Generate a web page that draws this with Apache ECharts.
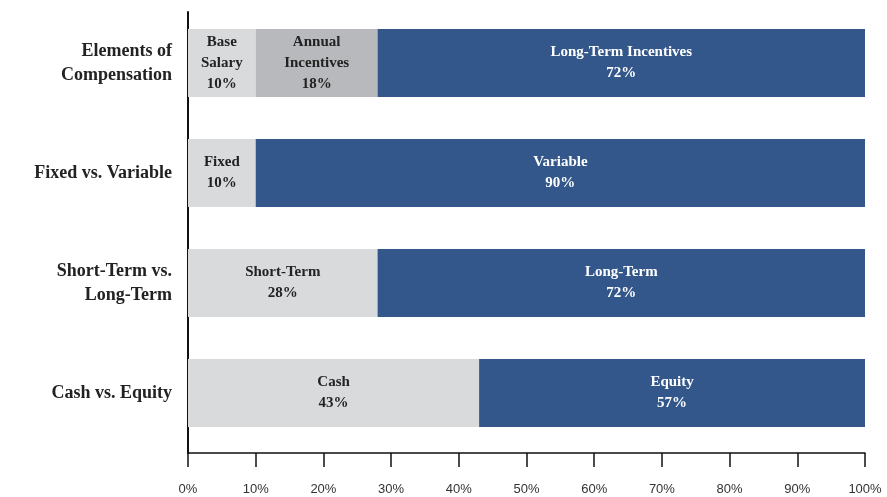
<!DOCTYPE html>
<html>
<head>
<meta charset="utf-8">
<script src="https://cdn.jsdelivr.net/npm/echarts@6/dist/echarts.min.js"></script>
<style>
html,body{margin:0;padding:0;background:#fff;}
#chart{width:887px;height:497px;}
</style>
</head>
<body>
<div id="chart"></div>
<script>
var categories = ['Elements of\nCompensation', 'Fixed vs. Variable', 'Short-Term vs.\nLong-Term', 'Cash vs. Equity'];
// first (light gray) segment
var seg1Values = [10, 10, 28, 43];
var seg1Names = ['Base\nSalary', 'Fixed', 'Short-Term', 'Cash'];
// second (mid gray) segment, only in first row
var seg2Values = [18, null, null, null];
var seg2Names = ['Annual\nIncentives', '', '', ''];
// third (blue) segment
var seg3Values = [72, 90, 72, 57];
var seg3Names = ['Long-Term Incentives', 'Variable', 'Long-Term', 'Equity'];
var xTicks = [0, 10, 20, 30, 40, 50, 60, 70, 80, 90, 100];

var serif = '"Liberation Serif", "DejaVu Serif", serif';

function makeData(vals, names) {
  var out = [];
  for (var i = 0; i < vals.length; i++) {
    out.push({ value: vals[i], name: names[i] });
  }
  return out;
}

function segLabel(color) {
  return {
    show: true,
    position: 'inside',
    color: color,
    fontFamily: serif,
    fontWeight: 'bold',
    fontSize: 15,
    lineHeight: 21,
    formatter: function (p) {
      if (p.value == null) return '';
      return p.data.name + '\n' + p.value + '%';
    }
  };
}

var myChart = echarts.init(document.getElementById('chart'));
var option = {
  animation: false,
  grid: [
    { left: 188, right: 22, top: 8, bottom: 49 },   // bars
    { left: 188, right: 22, top: 12, bottom: 44 }   // axis frame
  ],
  xAxis: [
    { gridIndex: 0, type: 'value', min: 0, max: 100, interval: 10, show: false },
    {
      gridIndex: 1,
      type: 'value',
      min: 0,
      max: 100,
      interval: 10,
      splitLine: { show: false },
      axisLine: { show: true, lineStyle: { color: '#111', width: 1.5 } },
      axisTick: { show: true, length: 14, lineStyle: { color: '#111', width: 1.5 } },
      axisLabel: {
        margin: 30,
        color: '#333',
        fontSize: 13,
        fontFamily: '"Liberation Sans Narrow", "Liberation Sans", Arial, sans-serif',
        formatter: function (v) { return xTicks.indexOf(v) >= 0 ? v + '%' : ''; }
      }
    }
  ],
  yAxis: [
    {
      gridIndex: 0,
      type: 'category',
      inverse: true,
      data: categories,
      axisLine: { show: false },
      axisTick: { show: false },
      axisLabel: {
        margin: 16,
        color: '#222',
        fontFamily: serif,
        fontWeight: 'bold',
        fontSize: 18,
        lineHeight: 24,
        align: 'right'
      }
    },
    {
      gridIndex: 1,
      type: 'value',
      min: 0,
      max: 1,
      splitLine: { show: false },
      axisTick: { show: false },
      axisLabel: { show: false },
      axisLine: { show: true, lineStyle: { color: '#111', width: 2 } }
    }
  ],
  series: [
    {
      type: 'bar', stack: 'total', barWidth: 68,
      data: makeData(seg1Values, seg1Names),
      itemStyle: { color: '#d9dadc' },
      label: segLabel('#222')
    },
    {
      type: 'bar', stack: 'total', barWidth: 68,
      data: makeData(seg2Values, seg2Names),
      itemStyle: { color: '#b8b9bc' },
      label: segLabel('#222')
    },
    {
      type: 'bar', stack: 'total', barWidth: 68,
      data: makeData(seg3Values, seg3Names),
      itemStyle: { color: '#33578a' },
      label: segLabel('#fff')
    }
  ]
};
myChart.setOption(option);
</script>
</body>
</html>
